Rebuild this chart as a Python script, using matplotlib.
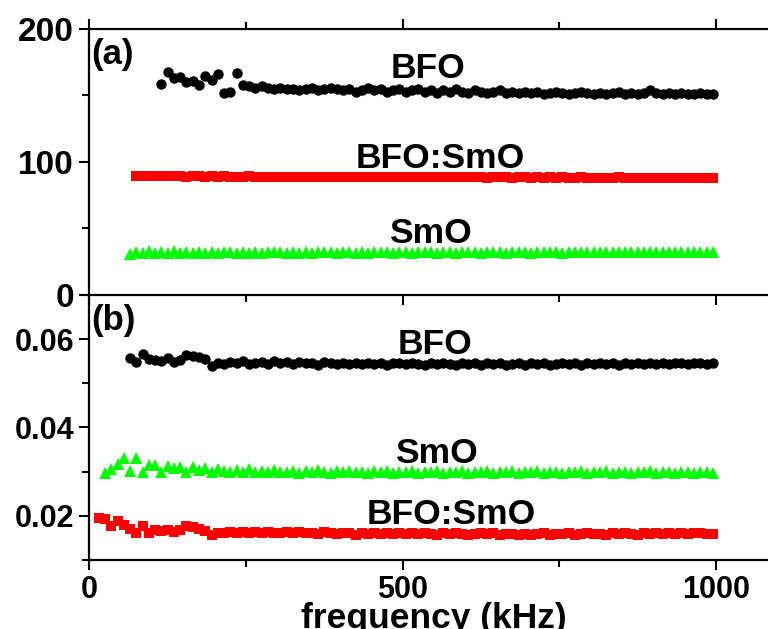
import matplotlib
matplotlib.use("Agg")
import matplotlib.pyplot as plt
from matplotlib.ticker import MultipleLocator, FormatStrFormatter

plt.rcParams["font.family"] = ["Liberation Sans", "DejaVu Sans"]
plt.rcParams["font.weight"] = "bold"
plt.rcParams["axes.labelweight"] = "bold"

# -------- DATA --------
# measurement frequencies (kHz)
freq = [15, 25, 35, 45, 55, 65, 75, 85, 95, 105,
        115, 125, 135, 145, 155, 165, 175, 185, 195, 205,
        215, 225, 235, 245, 255, 265, 275, 285, 295, 305,
        315, 325, 335, 345, 355, 365, 375, 385, 395, 405,
        415, 425, 435, 445, 455, 465, 475, 485, 495, 505,
        515, 525, 535, 545, 555, 565, 575, 585, 595, 605,
        615, 625, 635, 645, 655, 665, 675, 685, 695, 705,
        715, 725, 735, 745, 755, 765, 775, 785, 795, 805,
        815, 825, 835, 845, 855, 865, 875, 885, 895, 905,
        915, 925, 935, 945, 955, 965, 975, 985, 995]

# (a) dielectric constant, each series ends at the last frequency
eps_bfo = [159, 168, 163, 164, 160, 161, 158, 165, 162, 166,
           152, 153, 167, 158, 157, 156, 157, 156, 155, 156,
           155, 155, 154, 155, 156, 154, 155, 156, 155, 154,
           155, 153, 154, 156, 154, 155, 153, 154, 155, 153,
           154, 155, 153, 154, 152, 154, 153, 155, 153, 152,
           154, 153, 152, 153, 154, 152, 153, 152, 153, 152,
           153, 151, 152, 153, 152, 151, 152, 153, 152, 151,
           152, 151, 152, 153, 151, 152, 151, 152, 154, 152,
           151, 152, 151, 152, 151, 151, 152, 151, 151]

eps_bfo_smo = [89.5, 89.6, 89.3, 89.4,
               89.2, 89.4, 89.1, 89.3, 89.0, 89.2, 89.1, 88.9, 89.2, 89.0,
               89.1, 88.9, 89.0, 88.8, 89.1, 88.9, 88.8, 89.0, 88.9, 88.7,
               88.9, 88.8, 88.7, 88.9, 88.8, 88.6, 88.8, 88.7, 88.9, 88.6,
               88.7, 88.8, 88.6, 88.7, 88.5, 88.7, 88.6, 88.8, 88.5, 88.6,
               88.7, 88.5, 88.6, 88.4, 88.6, 88.5, 88.7, 88.4, 88.5, 88.6,
               88.4, 88.5, 88.3, 88.5, 88.4, 88.6, 88.3, 88.4, 88.5, 88.3,
               88.4, 88.2, 88.4, 88.3, 88.5, 88.2, 88.3, 88.4, 88.2, 88.3,
               88.1, 88.3, 88.2, 88.4, 88.1, 88.2, 88.3, 88.1, 88.2, 88.0,
               88.2, 88.1, 88.3, 88.0, 88.2, 88.1, 88.0, 88.2, 88.1]

eps_smo = [31.0, 32.5, 31.8, 32.8, 31.6,
           32.4, 31.5, 32.9, 31.7, 32.2, 31.6, 32.6, 31.8, 32.3, 31.5,
           32.1, 32.7, 31.6, 32.3, 31.8, 32.5, 31.7, 32.2, 32.0, 32.6,
           31.8, 32.3, 31.9, 32.5, 31.7, 32.2, 32.0, 32.4, 31.8, 32.3,
           32.0, 31.8, 32.4, 31.9, 32.2, 32.0, 32.5, 31.8, 32.1, 32.3,
           31.9, 32.2, 32.0, 32.4, 31.8, 32.1, 32.3, 31.9, 32.2, 32.0,
           32.3, 31.9, 32.1, 32.4, 32.0, 31.8, 32.2, 32.0, 32.3, 31.9,
           32.1, 32.4, 32.0, 32.2, 31.9, 32.3, 32.1, 32.0, 32.4, 32.1,
           32.2, 32.0, 32.3, 32.1, 32.4, 32.0, 32.2, 32.3, 32.1, 32.4,
           32.2, 32.3, 32.1, 32.4, 32.2, 32.3, 32.5, 32.4, 32.3]

# (b) loss tangent
tan_bfo = [0.0557, 0.0549, 0.0566, 0.0556, 0.0553,
           0.0551, 0.0557, 0.0549, 0.0553, 0.0564, 0.0562, 0.0560, 0.0556, 0.0540, 0.0547,
           0.0544, 0.0548, 0.0545, 0.0550, 0.0543, 0.0547, 0.0549, 0.0544, 0.0550, 0.0546,
           0.0548, 0.0543, 0.0549, 0.0545, 0.0547, 0.0542, 0.0548, 0.0545, 0.0543, 0.0547,
           0.0544, 0.0546, 0.0543, 0.0547, 0.0544, 0.0546, 0.0542, 0.0545, 0.0547, 0.0543,
           0.0546, 0.0544, 0.0541, 0.0545, 0.0543, 0.0546, 0.0544, 0.0542, 0.0545, 0.0543,
           0.0545, 0.0542, 0.0546, 0.0543, 0.0545, 0.0541, 0.0544, 0.0546, 0.0542, 0.0545,
           0.0543, 0.0546, 0.0542, 0.0544, 0.0545, 0.0543, 0.0546, 0.0542, 0.0545, 0.0543,
           0.0545, 0.0543, 0.0546, 0.0542, 0.0545, 0.0544, 0.0547, 0.0543, 0.0545, 0.0544,
           0.0546, 0.0543, 0.0545, 0.0547, 0.0544, 0.0546, 0.0545, 0.0544, 0.0545]

tan_smo = [0.0297, 0.0306, 0.0318, 0.0330, 0.0302, 0.0331, 0.0300, 0.0315, 0.0314,
           0.0300, 0.0312, 0.0308, 0.0311, 0.0299, 0.0310, 0.0303, 0.0309, 0.0300, 0.0306,
           0.0302, 0.0299, 0.0304, 0.0300, 0.0307, 0.0299, 0.0301, 0.0300, 0.0303, 0.0299,
           0.0300, 0.0302, 0.0298, 0.0301, 0.0299, 0.0303, 0.0300, 0.0298, 0.0301, 0.0299,
           0.0302, 0.0299, 0.0300, 0.0298, 0.0301, 0.0299, 0.0302, 0.0298, 0.0300, 0.0299,
           0.0301, 0.0298, 0.0300, 0.0299, 0.0302, 0.0298, 0.0300, 0.0299, 0.0301, 0.0298,
           0.0300, 0.0299, 0.0301, 0.0298, 0.0300, 0.0299, 0.0301, 0.0298, 0.0300, 0.0299,
           0.0301, 0.0298, 0.0300, 0.0299, 0.0298, 0.0300, 0.0299, 0.0301, 0.0298, 0.0300,
           0.0299, 0.0301, 0.0298, 0.0300, 0.0299, 0.0298, 0.0300, 0.0299, 0.0301, 0.0298,
           0.0300, 0.0299, 0.0298, 0.0300, 0.0299, 0.0298, 0.0299, 0.0300, 0.0298]

tan_bfo_smo = [0.0194, 0.0193, 0.0176, 0.0188, 0.0180, 0.0171, 0.0162, 0.0178, 0.0161, 0.0168,
               0.0165, 0.0167, 0.0163, 0.0169, 0.0176, 0.0174, 0.0171, 0.0165, 0.0157, 0.0162,
               0.0160, 0.0163, 0.0161, 0.0164, 0.0160, 0.0163, 0.0161, 0.0164, 0.0162, 0.0160,
               0.0163, 0.0161, 0.0164, 0.0160, 0.0162, 0.0159, 0.0163, 0.0161, 0.0158, 0.0162,
               0.0160, 0.0157, 0.0161, 0.0159, 0.0162, 0.0158, 0.0160, 0.0159, 0.0161, 0.0158,
               0.0160, 0.0158, 0.0161, 0.0159, 0.0157, 0.0160, 0.0158, 0.0161, 0.0159, 0.0157,
               0.0159, 0.0161, 0.0158, 0.0160, 0.0157, 0.0159, 0.0158, 0.0156, 0.0159, 0.0157,
               0.0158, 0.0160, 0.0157, 0.0159, 0.0158, 0.0160, 0.0157, 0.0159, 0.0161, 0.0158,
               0.0159, 0.0157, 0.0160, 0.0158, 0.0161, 0.0159, 0.0157, 0.0160, 0.0158, 0.0161,
               0.0159, 0.0160, 0.0158, 0.0161, 0.0159, 0.0162, 0.0160, 0.0159, 0.0158]

BLACK = "#000000"
RED = "#ff0000"
GREEN = "#00ff00"


def xs(vals):
    # series share the tail of the frequency grid
    return freq[len(freq) - len(vals):]


def style_axis(ax, size):
    for s in ax.spines.values():
        s.set_linewidth(1.6)
    ax.tick_params(axis="both", which="major", direction="out", length=7,
                   width=1.5, labelsize=size, pad=4)
    ax.tick_params(axis="both", which="minor", direction="out", length=5,
                   width=1.5)
    ax.xaxis.set_major_locator(MultipleLocator(500))
    ax.xaxis.set_minor_locator(MultipleLocator(250))
    ax.set_xlim(0, 1100)


# -------- FIGURE --------
fig = plt.figure(figsize=(7.68, 6.29), dpi=100)
ax_a = fig.add_axes([0.1163, 0.5310, 0.8975, 0.4229])
ax_b = fig.add_axes([0.1163, 0.1097, 0.8975, 0.4213])
ax_b.patch.set_visible(False)

# -------- PANEL (a) --------
ax_a.plot(xs(eps_bfo), eps_bfo, "o", color=BLACK, ms=7.5, mew=0)
ax_a.plot(xs(eps_bfo_smo), eps_bfo_smo, "s", color=RED, ms=7.5, mew=0)
ax_a.plot(xs(eps_smo), eps_smo, "^", color=GREEN, ms=9, mew=0)
ax_a.set_ylim(0, 200)
ax_a.yaxis.set_major_locator(MultipleLocator(100))
ax_a.yaxis.set_minor_locator(MultipleLocator(50))
style_axis(ax_a, 24)
ax_a.tick_params(axis="x", labelbottom=False)
ax_a.tick_params(axis="x", which="both", top=True, direction="out")

ax_a.text(540, 170, "BFO", fontsize=25.5, ha="center", va="center")
ax_a.text(560, 102.6, "BFO:SmO", fontsize=25.5, ha="center", va="center")
ax_a.text(544, 46.6, "SmO", fontsize=25.5, ha="center", va="center")
ax_a.text(0.003, 0.965, "(a)", transform=ax_a.transAxes, fontsize=25,
          ha="left", va="top")

# -------- PANEL (b) --------
ax_b.plot(xs(tan_bfo), tan_bfo, "o", color=BLACK, ms=7.5, mew=0)
ax_b.plot(xs(tan_smo), tan_smo, "^", color=GREEN, ms=9, mew=0)
ax_b.plot(xs(tan_bfo_smo), tan_bfo_smo, "s", color=RED, ms=7, mew=0)
ax_b.set_ylim(0.01, 0.07)
ax_b.yaxis.set_major_locator(MultipleLocator(0.02))
ax_b.yaxis.set_minor_locator(MultipleLocator(0.01))
ax_b.yaxis.set_major_formatter(FormatStrFormatter("%.2f"))
style_axis(ax_b, 22)
ax_b.spines["top"].set_visible(False)
ax_b.set_xlabel("frequency (kHz)", fontsize=25.5, labelpad=-2)

ax_b.text(552, 0.0587, "BFO", fontsize=25.5, ha="center", va="center")
ax_b.text(554, 0.0341, "SmO", fontsize=25.5, ha="center", va="center")
ax_b.text(577, 0.0202, "BFO:SmO", fontsize=25.5, ha="center", va="center")
ax_b.text(0.003, 0.965, "(b)", transform=ax_b.transAxes, fontsize=25,
          ha="left", va="top")

fig.savefig("out.png", dpi=100)
